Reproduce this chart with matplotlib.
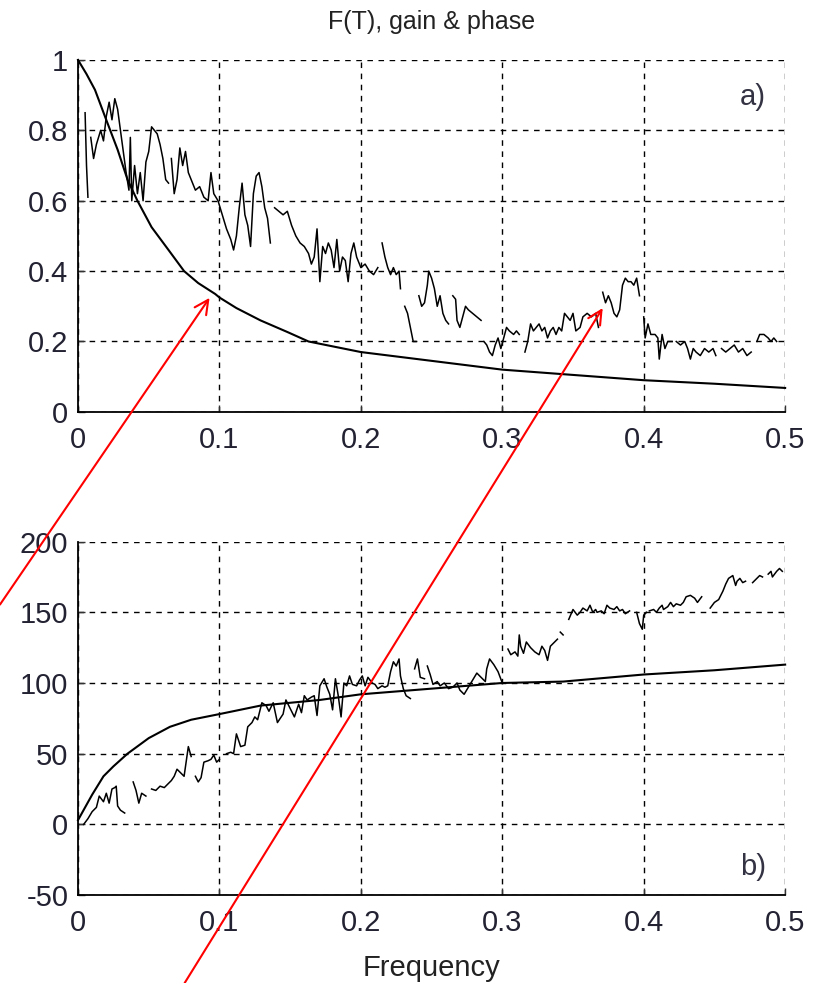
import matplotlib.pyplot as plt
import numpy as np

nan = np.nan

# a) gain: smooth model curve
f_model = [0.0, 0.006, 0.012, 0.019, 0.028, 0.035, 0.042, 0.052, 0.064, 0.075, 0.085,
           0.097, 0.1, 0.112, 0.129, 0.148, 0.163, 0.2, 0.25, 0.3, 0.35, 0.4, 0.45, 0.5]
gain_model = [1.0, 0.96, 0.915, 0.84, 0.745, 0.66, 0.6, 0.525, 0.46, 0.4, 0.366,
              0.335, 0.325, 0.295, 0.26, 0.227, 0.2, 0.17, 0.145, 0.12, 0.105, 0.09, 0.08,
              0.068]

# a) gain: noisy estimate as (frequency, gain) pairs, nan = gap
gain_pts = [
    (0.005, 0.85), (0.006, 0.70), (0.007, 0.61), (0.008, nan),
    (0.009, 0.78), (0.011, 0.72), (0.013, 0.76), (0.016, 0.80), (0.018, 0.77), (0.020, 0.84),
    (0.022, 0.88), (0.024, 0.83), (0.026, 0.89), (0.028, 0.86), (0.030, 0.80), (0.032, 0.74),
    (0.034, 0.68), (0.036, 0.63), (0.037, 0.78), (0.038, 0.60), (0.040, 0.70), (0.042, 0.62),
    (0.044, 0.68), (0.046, 0.60), (0.048, 0.71), (0.050, 0.74), (0.052, 0.81), (0.054, 0.80),
    (0.056, 0.79), (0.058, 0.76), (0.060, 0.72), (0.062, 0.66), (0.064, 0.65), (0.065, nan),
    (0.066, 0.72), (0.068, 0.62), (0.070, 0.66), (0.072, 0.75), (0.074, 0.70), (0.076, 0.74),
    (0.078, 0.68), (0.080, 0.66), (0.083, 0.63), (0.086, 0.64), (0.089, 0.61), (0.092, 0.60),
    (0.094, 0.68), (0.096, 0.62), (0.099, 0.60), (0.102, 0.56), (0.105, 0.52), (0.108, 0.49),
    (0.110, 0.46), (0.112, 0.50), (0.114, 0.58), (0.116, 0.65), (0.118, 0.56), (0.120, 0.53),
    (0.122, 0.47), (0.124, 0.62), (0.126, 0.67), (0.128, 0.68), (0.130, 0.64), (0.132, 0.58),
    (0.134, 0.55), (0.136, 0.48), (0.137, nan),
    (0.139, 0.58), (0.142, 0.57), (0.145, 0.56), (0.148, 0.57), (0.151, 0.53), (0.154, 0.50),
    (0.157, 0.48), (0.160, 0.47), (0.163, 0.45), (0.165, 0.42), (0.167, 0.44), (0.169, 0.52),
    (0.171, 0.37), (0.173, 0.47), (0.175, 0.45), (0.177, 0.48), (0.179, 0.46), (0.181, 0.41),
    (0.183, 0.49), (0.185, 0.40), (0.187, 0.44), (0.189, 0.43), (0.191, 0.37), (0.193, 0.45),
    (0.195, 0.48), (0.197, 0.44), (0.200, 0.41), (0.203, 0.42), (0.206, 0.40), (0.209, 0.39),
    (0.212, 0.41), (0.213, nan),
    (0.215, 0.48), (0.217, 0.44), (0.219, 0.41), (0.221, 0.39), (0.223, 0.41), (0.225, 0.39),
    (0.227, 0.40), (0.228, 0.35), (0.229, nan),
    (0.231, 0.30), (0.233, 0.28), (0.235, 0.24), (0.237, 0.20), (0.239, 0.20), (0.240, nan),
    (0.241, 0.33), (0.243, 0.30), (0.245, 0.31), (0.247, 0.36), (0.248, 0.40), (0.250, 0.38),
    (0.252, 0.35), (0.254, 0.30), (0.256, 0.33), (0.258, 0.28), (0.260, 0.26), (0.262, 0.25),
    (0.263, nan),
    (0.265, 0.33), (0.267, 0.32), (0.268, 0.26), (0.270, 0.24), (0.272, 0.27), (0.274, 0.30),
    (0.276, 0.29), (0.279, 0.28), (0.282, 0.27), (0.285, 0.26), (0.286, nan),
    (0.287, 0.20), (0.289, 0.19), (0.291, 0.17), (0.293, 0.16), (0.295, 0.19), (0.297, 0.21),
    (0.299, 0.18), (0.301, 0.21), (0.303, 0.24), (0.305, 0.23), (0.308, 0.22), (0.310, 0.23),
    (0.312, 0.22), (0.313, nan),
    (0.316, 0.17), (0.318, 0.20), (0.320, 0.25), (0.322, 0.23), (0.324, 0.24), (0.326, 0.25),
    (0.328, 0.23), (0.330, 0.24), (0.332, 0.21), (0.334, 0.23), (0.336, 0.24), (0.338, 0.22),
    (0.340, 0.24), (0.342, 0.23), (0.344, 0.28), (0.346, 0.27), (0.348, 0.26), (0.350, 0.28),
    (0.352, 0.23), (0.355, 0.24), (0.357, 0.27), (0.360, 0.28), (0.363, 0.27), (0.366, 0.28),
    (0.368, 0.24), (0.370, nan),
    (0.371, 0.34), (0.373, 0.31), (0.375, 0.33), (0.377, 0.31), (0.379, 0.28), (0.381, 0.27),
    (0.383, 0.29), (0.385, 0.36), (0.387, 0.38), (0.389, 0.37), (0.391, 0.37), (0.393, 0.36),
    (0.395, 0.38), (0.397, 0.33), (0.398, nan),
    (0.400, 0.27), (0.401, 0.21), (0.403, 0.25), (0.405, 0.22), (0.408, 0.22), (0.410, 0.21),
    (0.411, 0.15), (0.413, 0.22), (0.415, 0.18), (0.417, 0.20), (0.420, 0.20), (0.422, nan),
    (0.423, 0.20), (0.426, 0.19), (0.429, 0.20), (0.431, 0.18), (0.433, 0.15), (0.435, 0.18),
    (0.437, 0.17), (0.440, 0.16), (0.443, 0.18), (0.446, 0.17), (0.449, 0.18), (0.451, 0.16),
    (0.453, nan),
    (0.455, 0.18), (0.458, 0.17), (0.461, 0.18), (0.464, 0.19), (0.467, 0.17), (0.470, 0.18),
    (0.473, 0.16), (0.476, 0.17), (0.478, nan),
    (0.480, 0.20), (0.482, 0.22), (0.485, 0.22), (0.488, 0.21), (0.490, 0.20), (0.492, 0.21),
    (0.494, 0.20),
]

# b) phase: smooth model curve
f_phase_model = [0.0, 0.005, 0.01, 0.018, 0.025, 0.035, 0.05, 0.065, 0.08, 0.1, 0.129,
                 0.15, 0.171, 0.2, 0.25, 0.3, 0.343, 0.4, 0.45, 0.5]
phase_model = [3.0, 12.0, 21.0, 34.0, 41.0, 50.0, 61.0, 69.0, 74.0, 78.0, 84.0,
               86.0, 88.0, 92.0, 96.0, 100.0, 101.0, 106.0, 109.0, 113.0]

# b) phase: noisy estimate as (frequency, degrees) pairs, nan = gap
phase_pts = [
    (0.004, 0), (0.007, 4), (0.010, 9), (0.013, 12), (0.015, 20), (0.018, 16), (0.020, 22),
    (0.022, 15), (0.024, 25), (0.026, 26), (0.027, 27), (0.028, 13), (0.030, 10), (0.033, 8),
    (0.035, nan),
    (0.039, 30), (0.041, 24), (0.043, 15), (0.045, 22), (0.048, 20), (0.050, nan),
    (0.052, 25), (0.055, 24), (0.058, 27), (0.061, 26), (0.064, 29), (0.066, 31), (0.068, 34),
    (0.070, 39), (0.073, 36), (0.075, 34), (0.078, 55), (0.080, 48), (0.081, nan),
    (0.083, 34), (0.085, 30), (0.087, 33), (0.089, 44), (0.092, 45), (0.094, 46), (0.096, 49),
    (0.098, 44), (0.100, 46), (0.102, nan),
    (0.105, 50), (0.108, 51), (0.110, 50), (0.112, 64), (0.115, 55), (0.118, 56), (0.120, 69),
    (0.123, 72), (0.125, 76), (0.127, 74), (0.130, 86), (0.133, 84), (0.135, 80), (0.138, 86),
    (0.141, 72), (0.145, 78), (0.147, 88), (0.150, 82), (0.153, 76), (0.156, 85), (0.158, 79),
    (0.160, 91), (0.162, 88), (0.165, 90), (0.167, 91), (0.169, 77), (0.171, 98), (0.174, 103),
    (0.176, 97), (0.178, 92), (0.180, 81), (0.182, 103), (0.184, 91), (0.186, 76), (0.188, 100),
    (0.190, 98), (0.192, 105), (0.194, 99), (0.197, 98), (0.199, 102), (0.201, 105), (0.203, 98),
    (0.205, 104), (0.208, 100), (0.210, 99), (0.212, 96), (0.215, 98), (0.217, 97), (0.219, 98),
    (0.221, 108), (0.223, 115), (0.225, 112), (0.227, 117), (0.228, 105), (0.230, 96),
    (0.232, 91), (0.235, 89), (0.236, nan),
    (0.238, 110), (0.240, 117), (0.242, 104), (0.245, 103), (0.246, nan),
    (0.247, 112), (0.249, 106), (0.251, 99), (0.254, 101), (0.256, 98), (0.259, 100),
    (0.262, 96), (0.265, 97), (0.268, 100), (0.270, 95), (0.273, 92), (0.276, 97), (0.279, 102),
    (0.282, 107), (0.285, 104), (0.288, 101), (0.289, 110), (0.291, 117), (0.294, 113),
    (0.297, 108), (0.300, 100), (0.302, nan),
    (0.304, 124), (0.306, 120), (0.309, 122), (0.311, 119), (0.312, 134), (0.313, 126),
    (0.315, 121), (0.317, 129), (0.320, 125), (0.323, 122), (0.326, 120), (0.328, 126),
    (0.330, 123), (0.332, 116), (0.334, 126), (0.337, 129), (0.339, 131), (0.340, nan),
    (0.341, 136), (0.343, 134), (0.345, nan),
    (0.347, 145), (0.350, 152), (0.353, 148), (0.355, 150), (0.357, 153), (0.360, 151),
    (0.362, 155), (0.364, 150), (0.366, 152), (0.367, 150), (0.370, 151), (0.372, 149),
    (0.374, 155), (0.376, 153), (0.379, 152), (0.381, 154), (0.383, 151), (0.385, 152),
    (0.387, 149), (0.390, 151), (0.392, nan),
    (0.395, 150), (0.397, 142), (0.399, 138), (0.400, 148), (0.402, 150), (0.403, nan),
    (0.404, 151), (0.407, 152), (0.409, 150), (0.411, 153), (0.413, 155), (0.414, 152),
    (0.417, 154), (0.419, 157), (0.421, 154), (0.423, 156), (0.426, 155), (0.428, 157),
    (0.430, 161), (0.433, 162), (0.436, 160), (0.438, 157), (0.441, 161), (0.444, nan),
    (0.447, 153), (0.450, 157), (0.453, 159), (0.456, 165), (0.458, 170), (0.460, 174),
    (0.463, 176), (0.465, 169), (0.466, 172), (0.468, 174), (0.470, 171), (0.472, 172),
    (0.475, nan),
    (0.477, 171), (0.480, 174), (0.482, 176), (0.484, 175), (0.486, nan),
    (0.488, 177), (0.490, 179), (0.491, 175), (0.494, 179), (0.496, 181), (0.498, 179),
]

x_ticks = [0, 0.1, 0.2, 0.3, 0.4, 0.5]
x_labels = ['0', '0.1', '0.2', '0.3', '0.4', '0.5']
gain_ticks = [0, 0.2, 0.4, 0.6, 0.8, 1]
phase_ticks = [-50, 0, 50, 100, 150, 200]

f_gain, gain_est = zip(*gain_pts)
f_phase, phase_est = zip(*phase_pts)

plt.rcParams['font.family'] = ['Liberation Sans', 'DejaVu Sans']
plt.rcParams['font.size'] = 21

fig = plt.figure(figsize=(8.17, 9.83), dpi=100)
ax1 = fig.add_axes([0.0955, 0.581, 0.8655, 0.358])
ax2 = fig.add_axes([0.0955, 0.0895, 0.8655, 0.3595])
# keep the red arrows of ax1 on top of ax2
ax1.set_zorder(ax2.get_zorder() + 1)
ax1.patch.set_visible(False)


def style_axis(ax, yticks):
    ax.set_xlim(0, 0.5)
    ax.set_ylim(yticks[0], yticks[-1])
    ax.set_xticks(x_ticks)
    ax.set_xticklabels(x_labels)
    ax.set_yticks(yticks)
    ax.set_yticklabels([f'{t:g}' for t in yticks])
    ax.grid(True, color='black', linestyle=(0, (4, 4)), linewidth=1.0)
    ax.spines['top'].set_visible(False)
    ax.spines['right'].set_visible(False)
    ax.spines['left'].set_linewidth(1.3)
    ax.spines['bottom'].set_linewidth(1.3)
    ax.tick_params(direction='in', length=5, width=1, colors='#333333',
                   labelcolor='#222233')
    ax.tick_params(axis='x', pad=10)
    ax.tick_params(axis='y', pad=7)


ax1.plot(f_model, gain_model, color='black', lw=1.5, clip_on=False, zorder=3)
ax1.plot(f_gain, gain_est, color='black', lw=1.1, zorder=3)
style_axis(ax1, gain_ticks)
ax1.set_title('F(T), gain & phase', fontsize=18, pad=22, color='#222222')
ax1.text(0.477, 0.895, 'a)', ha='center', va='center', color='#333344')

ax2.plot(f_phase_model, phase_model, color='black', lw=1.5, clip_on=False, zorder=3)
ax2.plot(f_phase, phase_est, color='black', lw=1.1, zorder=3)
style_axis(ax2, phase_ticks)
ax2.set_xlabel('Frequency', labelpad=12, color='#222222')
ax2.text(0.477, -30, 'b)', ha='center', va='center', color='#333344')

# red arrows pointing at the two curves in panel a)
for tip, tail in [((0.093, 0.324), (0.0, 0.385)), ((0.371, 0.295), (0.226, 0.0))]:
    ax1.annotate('', xy=tip, xycoords='data', xytext=tail, textcoords='figure fraction',
                 arrowprops=dict(arrowstyle='->', color='red', lw=1.5,
                                 mutation_scale=25, shrinkA=0, shrinkB=0),
                 annotation_clip=False)

fig.savefig('out.png', dpi=100)
